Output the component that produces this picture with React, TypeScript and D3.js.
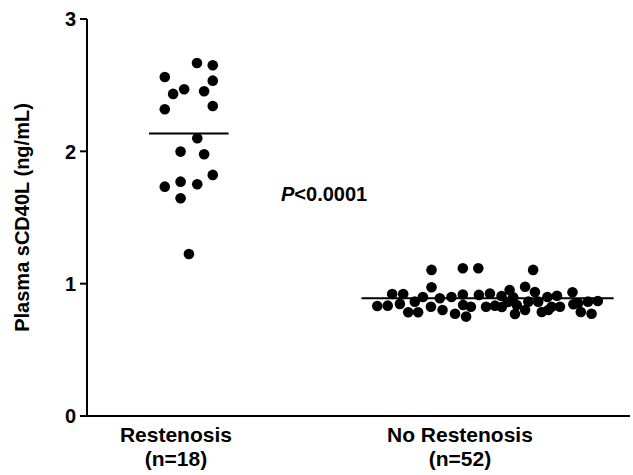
import React from "react";
import * as d3 from "d3";

// group order on the x axis
const categories = ["Restenosis", "No Restenosis"];
const categorySub = ["(n=18)", "(n=52)"];
const yTicks = [0, 1, 2, 3];
const pLabel = "<0.0001";

// Restenosis: [x position (group 1 ± jitter), sCD40L ng/mL]
const restenosisX = [
  1.027, 1.08, 0.919, 1.08, 0.984, 0.947, 1.051, 0.919, 1.08,
  1.028, 0.972, 1.051, 1.08, 0.972, 0.919, 1.028, 0.972, 1.0,
];
const restenosisY = [
  2.668, 2.651, 2.562, 2.534, 2.469, 2.434, 2.454, 2.318, 2.343,
  2.099, 1.998, 1.978, 1.822, 1.771, 1.733, 1.751, 1.646, 1.224,
];

// No restenosis: group 2 ± jitter
const noRestenosisX = [
  1.814, 1.919, 1.971, 2.155, 1.814, 2.076, 2.128, 1.682, 1.719, 1.785,
  1.842, 1.881, 1.919, 1.973, 2.01, 2.049, 2.161, 2.203, 2.235, 2.287,
  2.088, 1.632, 1.667, 1.708, 1.758, 1.812, 1.92, 1.946, 1.997, 2.027,
  2.05, 2.1, 2.139, 2.172, 2.217, 2.245, 2.29, 2.306, 2.339, 2.372,
  1.736, 1.769, 1.851, 1.893, 1.93, 2.094, 2.128, 2.184, 2.206, 2.315,
  2.351, 2.07,
];
const noRestenosisY = [
  1.104, 1.116, 1.116, 1.104, 0.973, 0.952, 0.977, 0.922, 0.922, 0.899,
  0.89, 0.899, 0.918, 0.915, 0.926, 0.907, 0.937, 0.899, 0.909, 0.935,
  0.897, 0.831, 0.834, 0.847, 0.864, 0.826, 0.839, 0.826, 0.826, 0.834,
  0.824, 0.839, 0.864, 0.864, 0.826, 0.826, 0.844, 0.852, 0.864, 0.869,
  0.784, 0.784, 0.801, 0.773, 0.751, 0.771, 0.801, 0.786, 0.801, 0.786,
  0.773, 0.862,
];

// group means (horizontal bars)
const groupMeans = [2.134, 0.89];

const W = 633;
const H = 475;
const FONT = "'Liberation Sans', Arial, sans-serif";

export default function App() {
  const margin = { top: 19, right: 3, bottom: 59, left: 87 };

  const x = d3.scaleLinear().domain([0.658, 2.48]).range([margin.left, W - margin.right]);
  const y = d3.scaleLinear().domain([0, 3]).range([H - margin.bottom, margin.top]);

  const groups = [
    restenosisX.map((xv, i) => ({ x: xv, y: restenosisY[i] })),
    noRestenosisX.map((xv, i) => ({ x: xv, y: noRestenosisY[i] })),
  ];

  const meanPad = 0.053;
  const meanLines = groups.map((pts, i) => {
    const [lo, hi] = d3.extent(pts, (d) => d.x) as [number, number];
    return { x1: x(lo - meanPad), x2: x(hi + meanPad), y: y(groupMeans[i]) };
  });

  // labels sit a little left of the dot clusters, as in the figure
  const labelX = (i: number) => x(i + 1) - (i === 0 ? 13 : 27);

  const y0 = y(0);

  return (
    <svg
      width={W}
      height={H}
      style={{ position: "absolute", left: 0, top: 0, background: "#fff" }}
      fontFamily={FONT}
    >
      {/* axes */}
      <line x1={margin.left} x2={margin.left} y1={y(3)} y2={y0} stroke="#000" strokeWidth={2} />
      <line x1={margin.left - 1} x2={W - 3} y1={y0} y2={y0} stroke="#000" strokeWidth={2} />

      {yTicks.map((t) => (
        <g key={t}>
          <line x1={margin.left - 7} x2={margin.left} y1={y(t)} y2={y(t)} stroke="#000" strokeWidth={2} />
          <text
            x={margin.left - 11}
            y={y(t)}
            dy="0.36em"
            textAnchor="end"
            fontSize={20}
            fontWeight="bold"
          >
            {t}
          </text>
        </g>
      ))}

      <text
        transform={`translate(22,${(y(0) + y(3)) / 2}) rotate(-90)`}
        textAnchor="middle"
        fontSize={20}
        fontWeight="bold"
        dy="0.35em"
      >
        Plasma sCD40L (ng/mL)
      </text>

      {categories.map((c, i) => (
        <g key={c} fontSize={21} fontWeight="bold" textAnchor="middle">
          <text x={labelX(i)} y={442}>{c}</text>
          <text x={labelX(i)} y={466}>{categorySub[i]}</text>
        </g>
      ))}

      {/* points */}
      {groups.map((pts, gi) =>
        pts.map((d, i) => (
          <circle key={`${gi}-${i}`} cx={x(d.x)} cy={y(d.y)} r={5.3} fill="#000" />
        ))
      )}

      {meanLines.map((m, i) => (
        <line key={i} x1={m.x1} x2={m.x2} y1={m.y} y2={m.y} stroke="#000" strokeWidth={2} />
      ))}

      <text x={281} y={201} fontSize={20} fontWeight="bold">
        <tspan fontStyle="italic">P</tspan>
        {pLabel}
      </text>
    </svg>
  );
}
